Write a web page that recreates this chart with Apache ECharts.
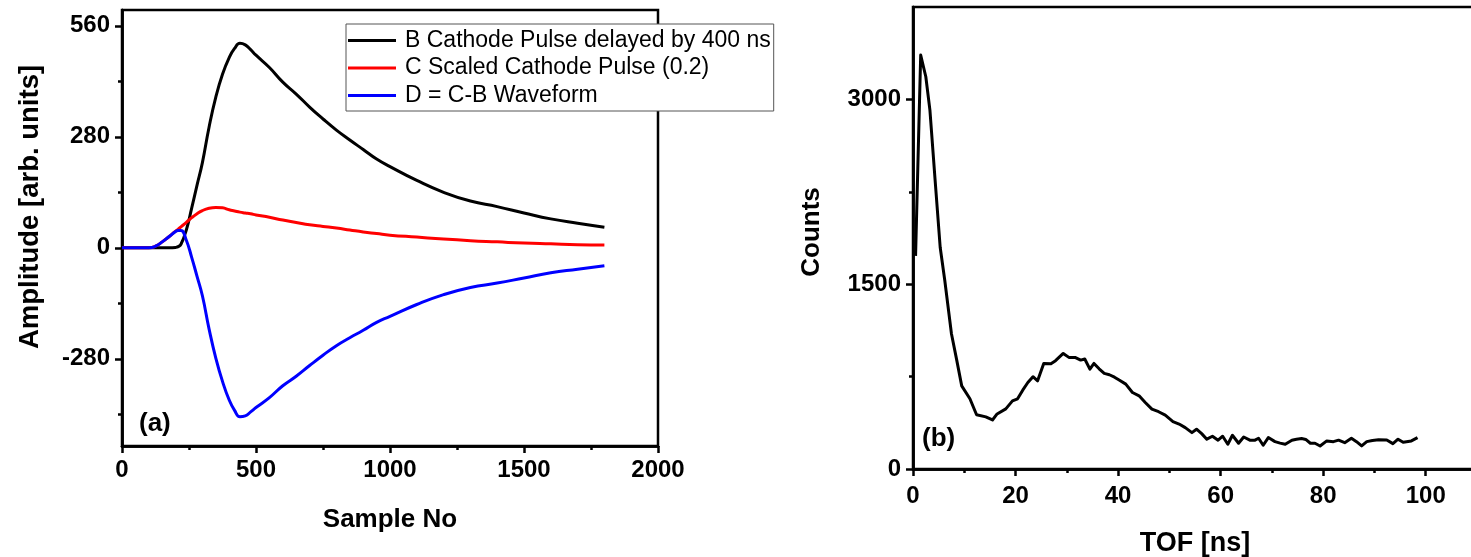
<!DOCTYPE html>
<html><head><meta charset="utf-8">
<script src="https://cdn.jsdelivr.net/npm/echarts@6/dist/echarts.min.js"></script>
<style>html,body{margin:0;padding:0;background:#fff}#c{width:1471px;height:557px}</style>
</head><body><div id="c"></div>
<script>
// ---- Panel (a) data ----
const sampleNo = [0, 50, 100, 125, 150, 175, 200, 210, 220, 240, 260, 280, 300, 325, 350, 375, 400, 420, 440, 460, 480, 500, 550, 600, 650, 700, 750, 800, 850, 900, 950, 1000, 1100, 1200, 1300, 1400, 1500, 1600, 1700, 1800];
const cathodeDelayed = [0, 0, 0, 0, 0, 0, 1, 3, 9, 45, 100, 158, 215, 305, 380, 438, 480, 503, 516, 512, 500, 486, 455, 418, 388, 355, 325, 297, 272, 248, 224, 205, 170, 140, 118, 104, 88, 73, 62, 52];
const cathodeScaled = [0, 0, 0, 4, 15, 28, 42, 47, 53, 64, 76, 86, 94, 100, 102, 101, 96, 93, 90, 88, 86, 83, 77, 70, 64, 58, 54, 50, 45, 40, 36, 32, 27, 22, 18, 15, 12, 10, 8, 7];
const diffWave = [0, 0, 0, 4, 15, 28, 41, 44, 44, 19, -24, -72, -121, -205, -278, -337, -384, -410, -426, -424, -414, -403, -378, -348, -324, -297, -271, -247, -227, -208, -188, -173, -143, -118, -100, -89, -76, -63, -54, -45];
const seriesNames = ['B Cathode Pulse delayed by 400 ns', 'C Scaled Cathode Pulse (0.2)', 'D = C-B Waveform'];
const leftXTicks = [0, 500, 1000, 1500, 2000];
const leftXMinor = [250, 750, 1250, 1750];
const leftYTicks = [-280, 0, 280, 560];
const leftYMinor = [-420, -140, 140, 420];

// ---- Panel (b) data ----
const tofNs = [0.5, 1.5, 2.5, 3.3, 4.3, 5.3, 6.2, 7.5, 8.5, 9.5, 11.1, 12.4, 14.2, 15.5, 16.4, 18.1, 19.4, 20.4, 21.4, 22.4, 23.4, 24.3, 25.5, 26.9, 27.8, 29.3, 30.4, 31.6, 32.7, 33.5, 34.5, 35.3, 36.3, 37.3, 38.3, 39.3, 40.2, 41.5, 42.8, 44.1, 45.3, 46.6, 47.9, 49.2, 50.7, 51.9, 53.1, 54.4, 55.3, 56.3, 57.3, 58.4, 59.5, 60.4, 61.4, 62.3, 63.5, 64.5, 65.7, 66.7, 67.4, 68.3, 69.3, 70.6, 71.6, 72.6, 73.9, 74.8, 75.8, 76.6, 77.5, 78.4, 79.4, 80.7, 82.0, 83.0, 84.2, 85.5, 86.5, 87.5, 88.5, 89.6, 90.8, 92.4, 93.6, 94.6, 95.6, 97.2, 98.4];
const tofCounts = [1730, 3360, 3184, 2913, 2350, 1800, 1530, 1098, 890, 675, 570, 440, 423, 398, 447, 488, 553, 570, 640, 702, 749, 716, 857, 854, 879, 938, 906, 906, 884, 893, 811, 857, 813, 776, 765, 745, 722, 689, 621, 594, 540, 486, 465, 437, 385, 365, 336, 295, 323, 287, 242, 266, 234, 266, 201, 274, 209, 260, 234, 234, 250, 193, 255, 222, 210, 201, 234, 242, 247, 240, 209, 209, 187, 228, 222, 234, 214, 250, 222, 187, 222, 232, 238, 236, 206, 242, 217, 228, 255];
const rightXTicks = [0, 20, 40, 60, 80, 100];
const rightXMinor = [10, 30, 50, 70, 90];
const rightYTicks = [0, 1500, 3000];
const rightYMinor = [750, 2250];

const FONT = '"Liberation Sans", Arial, sans-serif';
const AXW = 2.5;
const pairs = (xs, ys) => xs.map((x, i) => [x, ys[i]]);

function axis(gridIndex, min, max, ticks, opt) {
  return Object.assign({
    type: 'value', gridIndex, min, max,
    axisLine: { show: true, onZero: false, lineStyle: { color: '#000', width: AXW } },
    axisTick: { show: true, customValues: ticks, length: 7, lineStyle: { color: '#000', width: AXW } },
    axisLabel: { show: true, customValues: ticks, formatter: v => String(v), fontSize: 24, fontWeight: 'bold', color: '#000', fontFamily: FONT, margin: 12 },
    splitLine: { show: false }
  }, opt || {});
}
function minorAxis(gridIndex, min, max, ticks) {
  return {
    type: 'value', gridIndex, min, max,
    axisLine: { show: true, onZero: false, lineStyle: { color: '#000', width: AXW } },
    axisTick: { show: true, customValues: ticks, length: 4, lineStyle: { color: '#000', width: AXW } },
    axisLabel: { show: false },
    splitLine: { show: false }
  };
}
const nameStyle = { fontSize: 26, fontWeight: 'bold', color: '#000', fontFamily: FONT };

const gLeft = { left: 122, top: 10, width: 536, height: 436, outerBoundsMode: 'none', containLabel: false };
const gRight = { left: 913, top: 7, width: 564, height: 462, outerBoundsMode: 'none', containLabel: false };

const chart = echarts.init(document.getElementById('c'), null, { renderer: 'canvas' });
chart.setOption({
  animation: false,
  backgroundColor: '#fff',
  grid: [
    Object.assign({ show: true, borderColor: '#000', borderWidth: AXW, backgroundColor: 'transparent' }, gLeft),
    Object.assign({ show: true, borderColor: '#000', borderWidth: AXW, backgroundColor: 'transparent' }, gRight),
    Object.assign({ show: false }, gLeft),
    Object.assign({ show: false }, gRight)
  ],
  xAxis: [
    axis(0, 0, 2000, leftXTicks, { name: 'Sample No', nameLocation: 'middle', nameGap: 61, nameTextStyle: nameStyle }),
    axis(1, 0, 110, rightXTicks, { name: 'TOF [ns]', nameLocation: 'middle', nameGap: 61, nameTextStyle: Object.assign({}, nameStyle, { fontSize: 27 }),
      axisLabel: { show: true, customValues: rightXTicks, formatter: v => String(v), fontSize: 24, fontWeight: 'bold', color: '#000', fontFamily: FONT, margin: 15 } }),
    minorAxis(2, 0, 2000, leftXMinor),
    minorAxis(3, 0, 110, rightXMinor)
  ],
  yAxis: [
    axis(0, -500, 600, leftYTicks, { name: 'Amplitude [arb. units]', nameLocation: 'middle', nameGap: 78, nameTextStyle: Object.assign({ padding: [0, 0, 0, 42] }, nameStyle, { fontSize: 27.5 }) }),
    axis(1, 0, 3750, rightYTicks, { name: 'Counts', nameLocation: 'middle', nameGap: 88, nameTextStyle: Object.assign({ padding: [0, 0, 0, 12] }, nameStyle) }),
    minorAxis(2, -500, 600, leftYMinor),
    minorAxis(3, 0, 3750, rightYMinor)
  ],
  legend: {
    data: seriesNames,
    orient: 'vertical', left: 346, top: 24,
    icon: 'rect', itemWidth: 48, itemHeight: 3, itemGap: 4.5,
    padding: [5, 3, 4, 2],
    backgroundColor: '#fff', borderColor: '#555', borderWidth: 1, borderRadius: 0,
    selectedMode: false,
    textStyle: { fontSize: 23, color: '#000', fontFamily: FONT, lineHeight: 23, padding: [0, 0, 0, 4] }
  },
  graphic: [
    { type: 'text', left: 139, top: 411, style: { text: '(a)', font: 'bold 26px ' + FONT, fill: '#000' } },
    { type: 'text', left: 922, top: 426, style: { text: '(b)', font: 'bold 26px ' + FONT, fill: '#000' } }
  ],
  series: [
    { name: seriesNames[0], type: 'line', xAxisIndex: 0, yAxisIndex: 0, data: pairs(sampleNo, cathodeDelayed), showSymbol: false, symbol: 'none', smooth: 0.5, color: '#000', lineStyle: { color: '#000', width: 3 } },
    { name: seriesNames[1], type: 'line', xAxisIndex: 0, yAxisIndex: 0, data: pairs(sampleNo, cathodeScaled), showSymbol: false, symbol: 'none', smooth: 0.5, color: '#ff0000', lineStyle: { color: '#ff0000', width: 3 } },
    { name: seriesNames[2], type: 'line', xAxisIndex: 0, yAxisIndex: 0, data: pairs(sampleNo, diffWave), showSymbol: false, symbol: 'none', smooth: 0.5, color: '#0000ff', lineStyle: { color: '#0000ff', width: 3 } },
    { name: 'TOF', type: 'line', xAxisIndex: 1, yAxisIndex: 1, data: pairs(tofNs, tofCounts), showSymbol: false, symbol: 'none', color: '#000', lineStyle: { color: '#000', width: 3, join: 'round' } }
  ]
});
</script>
</body></html>
